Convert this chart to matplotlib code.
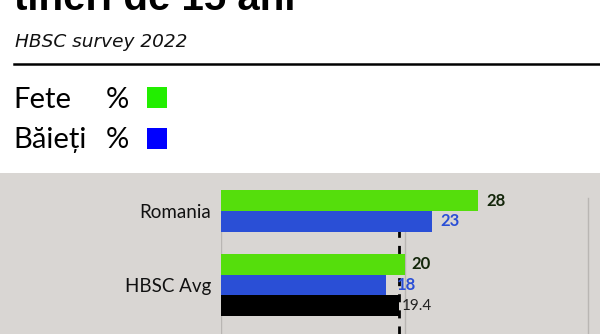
import matplotlib
matplotlib.use('Agg')
import matplotlib.pyplot as plt
from matplotlib.patches import Rectangle

# ---- data ----
categories = ['Romania', 'HBSC Avg']
fete = [28, 20]
baieti = [23, 18]
total = [None, 19.4]
hbsc_total = 19.4

title = 'tineri de 15 ani'
subtitle = 'HBSC survey 2022'
legend_labels = ['Fete', 'Băieți']

# ---- style ----
W, H = 600, 334
GREEN = '#55de0c'
BLUE = '#2a4fd6'
BLACK = '#000000'
PANEL = '#d9d6d3'

fig = plt.figure(figsize=(W / 100, H / 100), dpi=100)
fig.patch.set_facecolor('white')


def fx(px):
    return px / W


def fy(py):
    return 1 - py / H


# gray panel
fig.patches.append(Rectangle((0, 0), 1, fy(173), transform=fig.transFigure,
                             facecolor=PANEL, edgecolor='none', zorder=-5))

# header texts
fig.text(fx(14), fy(10), title, fontsize=29, fontweight='bold', family='Liberation Sans',
         va='baseline', ha='left', color='black')
fig.text(fx(15), fy(47), subtitle, fontsize=13.3, style='italic', family='DejaVu Sans',
         va='baseline', ha='left', color='#111111')
fig.add_artist(plt.Line2D([fx(14), 1], [fy(64), fy(64)], transform=fig.transFigure,
                          color='black', lw=1.8))

# legend texts
leg_colors = ['#22ee00', '#0000ff']
leg_y = [100, 140]
sq_y = [97, 138]
for lab, col, yy, sy in zip(legend_labels, leg_colors, leg_y, sq_y):
    fig.text(fx(13), fy(yy), lab, fontsize=21, family='Lato', va='center', ha='left', color='black')
    fig.text(fx(106), fy(yy), '%', fontsize=21, family='Lato', va='center', ha='left', color='black')
    fig.patches.append(Rectangle((fx(147), fy(sy + 11)), fx(20), 21 / H,
                                 transform=fig.transFigure, facecolor=col,
                                 edgecolor='none', zorder=2))

# chart axes
px_per_unit = 9.18
ax = fig.add_axes([fx(221), 0, fx(600) - fx(221), fy(173)])
ax.set_facecolor('none')
ax.set_zorder(1)
ax.set_xlim(0, (600 - 221) / px_per_unit)
slot = 20.6
ax.set_ylim((334 - 211) / slot, (173 - 211) / slot)
for s in ax.spines.values():
    s.set_visible(False)
ax.set_xticks([])

cat_pos = [0, 3.59]

# gridlines
for gx in [0, 20, 40]:
    ax.axvline(gx, ymin=0, ymax=(334 - 198) / (334 - 173), color='#b9b6b3', lw=1, zorder=0)

# dashed average line (starts below the Romania group)
ax.axvline(hbsc_total, ymin=0, ymax=(334 - 225) / (334 - 173), color='black', lw=2,
           linestyle=(0, (2.9, 2.9)), zorder=1)

label_offsets_px = {'f': [8, 7], 'b': [8, 11], 't': [None, 3]}
for i, cat in enumerate(categories):
    if total[i] is None:
        offs = [-0.5, 0.5]
    else:
        offs = [-1, 0, 1]
    y0 = cat_pos[i]
    ax.barh(y0 + offs[0], fete[i], height=1.0, color=GREEN, zorder=2)
    ax.barh(y0 + offs[1], baieti[i], height=1.0, color=BLUE, zorder=2)
    ax.text(fete[i] + label_offsets_px['f'][i] / px_per_unit, y0 + offs[0], str(fete[i]),
            va='center', ha='left', fontsize=12, fontweight='bold', family='Lato', color='#13260a')
    ax.text(baieti[i] + label_offsets_px['b'][i] / px_per_unit, y0 + offs[1], str(baieti[i]),
            va='center', ha='left', fontsize=12, fontweight='bold', family='Lato', color=BLUE)
    if total[i] is not None:
        ax.barh(y0 + offs[2], total[i], height=1.0, color=BLACK, zorder=2)
        ax.text(total[i] + label_offsets_px['t'][i] / px_per_unit, y0 + offs[2], str(total[i]),
                va='center', ha='left', fontsize=11, family='Lato', color='#222222')

ax.set_yticks(cat_pos)
ax.set_yticklabels(categories, fontsize=13.5, family='Lato', color='#111111')
ax.tick_params(axis='y', length=0, pad=7)

fig.savefig('out.png', dpi=100)
